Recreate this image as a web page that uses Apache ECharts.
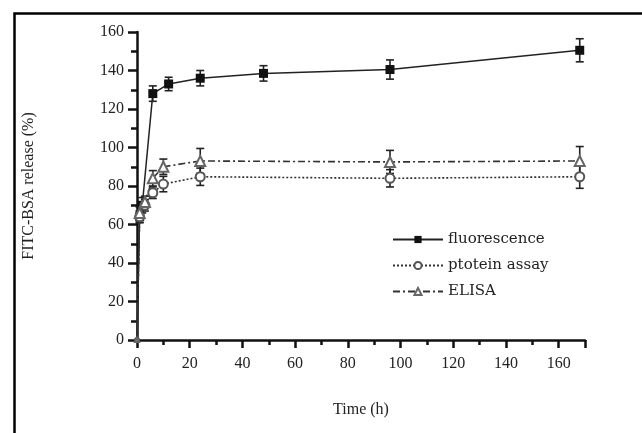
<!DOCTYPE html>
<html>
<head>
<meta charset="utf-8">
<script src="https://cdn.jsdelivr.net/npm/echarts@6/dist/echarts.min.js"></script>
<style>
  html, body { margin: 0; padding: 0; background: #fff; }
  #main { width: 642px; height: 433px; }
</style>
</head>
<body>
<div id="main"></div>
<script>
// time points (h)
var timeF = [0, 1, 2, 6, 12, 24, 48, 96, 168];
var timeP = [0, 1, 3, 6, 10, 24, 96, 168];
// release (%)
var fluor = [0, 64, 70, 128, 133, 136, 138.5, 140.5, 150.5];
var fluorErr = [0, 3, 4, 4, 3.5, 4, 4, 5, 6];
var protein = [0, 64, 70, 76.5, 81, 84.8, 84, 84.8];
var proteinErr = [0, 3, 3, 3, 4, 4.5, 4.5, 6];
var elisa = [0, 66, 71.7, 84, 90, 93, 92.5, 93];
var elisaErr = [0, 3, 3, 4, 4, 6.5, 6, 7.5];

var names = ['fluorescence', 'ptotein assay', 'ELISA'];

function pairs(t, v) {
    return t.map(function (x, i) { return [x, v[i]]; });
}
function bars(t, v, e) {
    var out = [];
    t.forEach(function (x, i) {
        if (e[i] > 0) out.push([x, v[i] - e[i], v[i] + e[i]]);
    });
    return out;
}
// origin point shows only a tiny mark
function sizeOf(s) {
    return function (val) { return val[0] === 0 ? 4 : s; };
}

function errItem(params, api) {
    var x = api.value(0);
    var lo = api.coord([x, api.value(1)]);
    var hi = api.coord([x, api.value(2)]);
    var w = 4;
    var st = { stroke: '#222', lineWidth: 1.6 };
    return {
        type: 'group',
        children: [
            { type: 'line', shape: { x1: lo[0], y1: lo[1], x2: hi[0], y2: hi[1] }, style: st },
            { type: 'line', shape: { x1: lo[0] - w, y1: lo[1], x2: lo[0] + w, y2: lo[1] }, style: st },
            { type: 'line', shape: { x1: hi[0] - w, y1: hi[1], x2: hi[0] + w, y2: hi[1] }, style: st }
        ]
    };
}

var serif = 'Liberation Serif';

option = {
    animation: false,
    graphic: [{
        type: 'rect',
        left: 12, top: 11,
        shape: { width: 700, height: 500 },
        style: { fill: 'none', stroke: '#000', lineWidth: 2.5 },
        silent: true
    }],
    grid: {
        left: 137,
        right: 57,
        top: 32,
        bottom: 93
    },
    legend: {
        data: names,
        orient: 'vertical',
        left: 387,
        top: 227,
        itemWidth: 50,
        itemHeight: 9,
        itemGap: 11,
        textStyle: { fontFamily: 'DejaVu Serif', fontSize: 15, color: '#222' }
    },
    xAxis: {
        type: 'value',
        min: 0,
        max: 170,
        interval: 20,
        name: 'Time (h)',
        nameLocation: 'middle',
        nameGap: 62,
        nameTextStyle: { fontFamily: serif, fontSize: 16, color: '#222' },
        axisLine: { onZero: false, lineStyle: { color: '#111', width: 2.5 } },
        axisTick: { length: 8, lineStyle: { color: '#111', width: 2.5 } },
        minorTick: { show: true, splitNumber: 2, length: 5, lineStyle: { color: '#111', width: 2.5 } },
        axisLabel: { fontFamily: serif, fontSize: 16, color: '#222', margin: 16, showMaxLabel: false },
        splitLine: { show: false }
    },
    yAxis: {
        type: 'value',
        min: 0,
        max: 160,
        interval: 20,
        name: 'FITC-BSA release (%)',
        nameLocation: 'middle',
        nameGap: 100,
        nameTextStyle: { fontFamily: serif, fontSize: 16, color: '#222' },
        axisLine: { show: true, lineStyle: { color: '#111', width: 2.5 } },
        axisTick: { length: 9, lineStyle: { color: '#111', width: 2.5 } },
        minorTick: { show: true, splitNumber: 2, length: 6, lineStyle: { color: '#111', width: 2.5 } },
        axisLabel: { fontFamily: serif, fontSize: 16, color: '#222', margin: 13 },
        splitLine: { show: false }
    },
    series: [{
        name: names[0],
        type: 'line',
        data: pairs(timeF, fluor),
        symbol: 'rect',
        symbolSize: sizeOf(9),
        showAllSymbol: true,
        color: '#111',
        itemStyle: { color: '#111' },
        lineStyle: { color: '#222', width: 1.5 },
        z: 3
    },
    {
        name: names[1],
        type: 'line',
        data: pairs(timeP, protein),
        symbol: 'emptyCircle',
        symbolSize: sizeOf(9),
        color: '#222',
        itemStyle: { color: '#555', borderWidth: 1 },
        lineStyle: { color: '#333', width: 1.6, type: [2, 2] },
        z: 3
    },
    {
        name: names[2],
        type: 'line',
        data: pairs(timeP, elisa),
        symbol: 'emptyTriangle',
        symbolSize: sizeOf(10),
        color: '#222',
        itemStyle: { color: '#666', borderWidth: 1 },
        lineStyle: { color: '#333', width: 1.6, type: [7, 3, 2, 3] },
        z: 3
    },
    {
        type: 'custom',
        renderItem: errItem,
        data: bars(timeF, fluor, fluorErr),
        encode: { x: 0, y: [1, 2] },
        z: 2
    },
    {
        type: 'custom',
        renderItem: errItem,
        data: bars(timeP, protein, proteinErr),
        encode: { x: 0, y: [1, 2] },
        z: 2
    },
    {
        type: 'custom',
        renderItem: errItem,
        data: bars(timeP, elisa, elisaErr),
        encode: { x: 0, y: [1, 2] },
        z: 2
    }
    ]
};

echarts.init(document.getElementById('main')).setOption(option);
</script>
</body>
</html>
